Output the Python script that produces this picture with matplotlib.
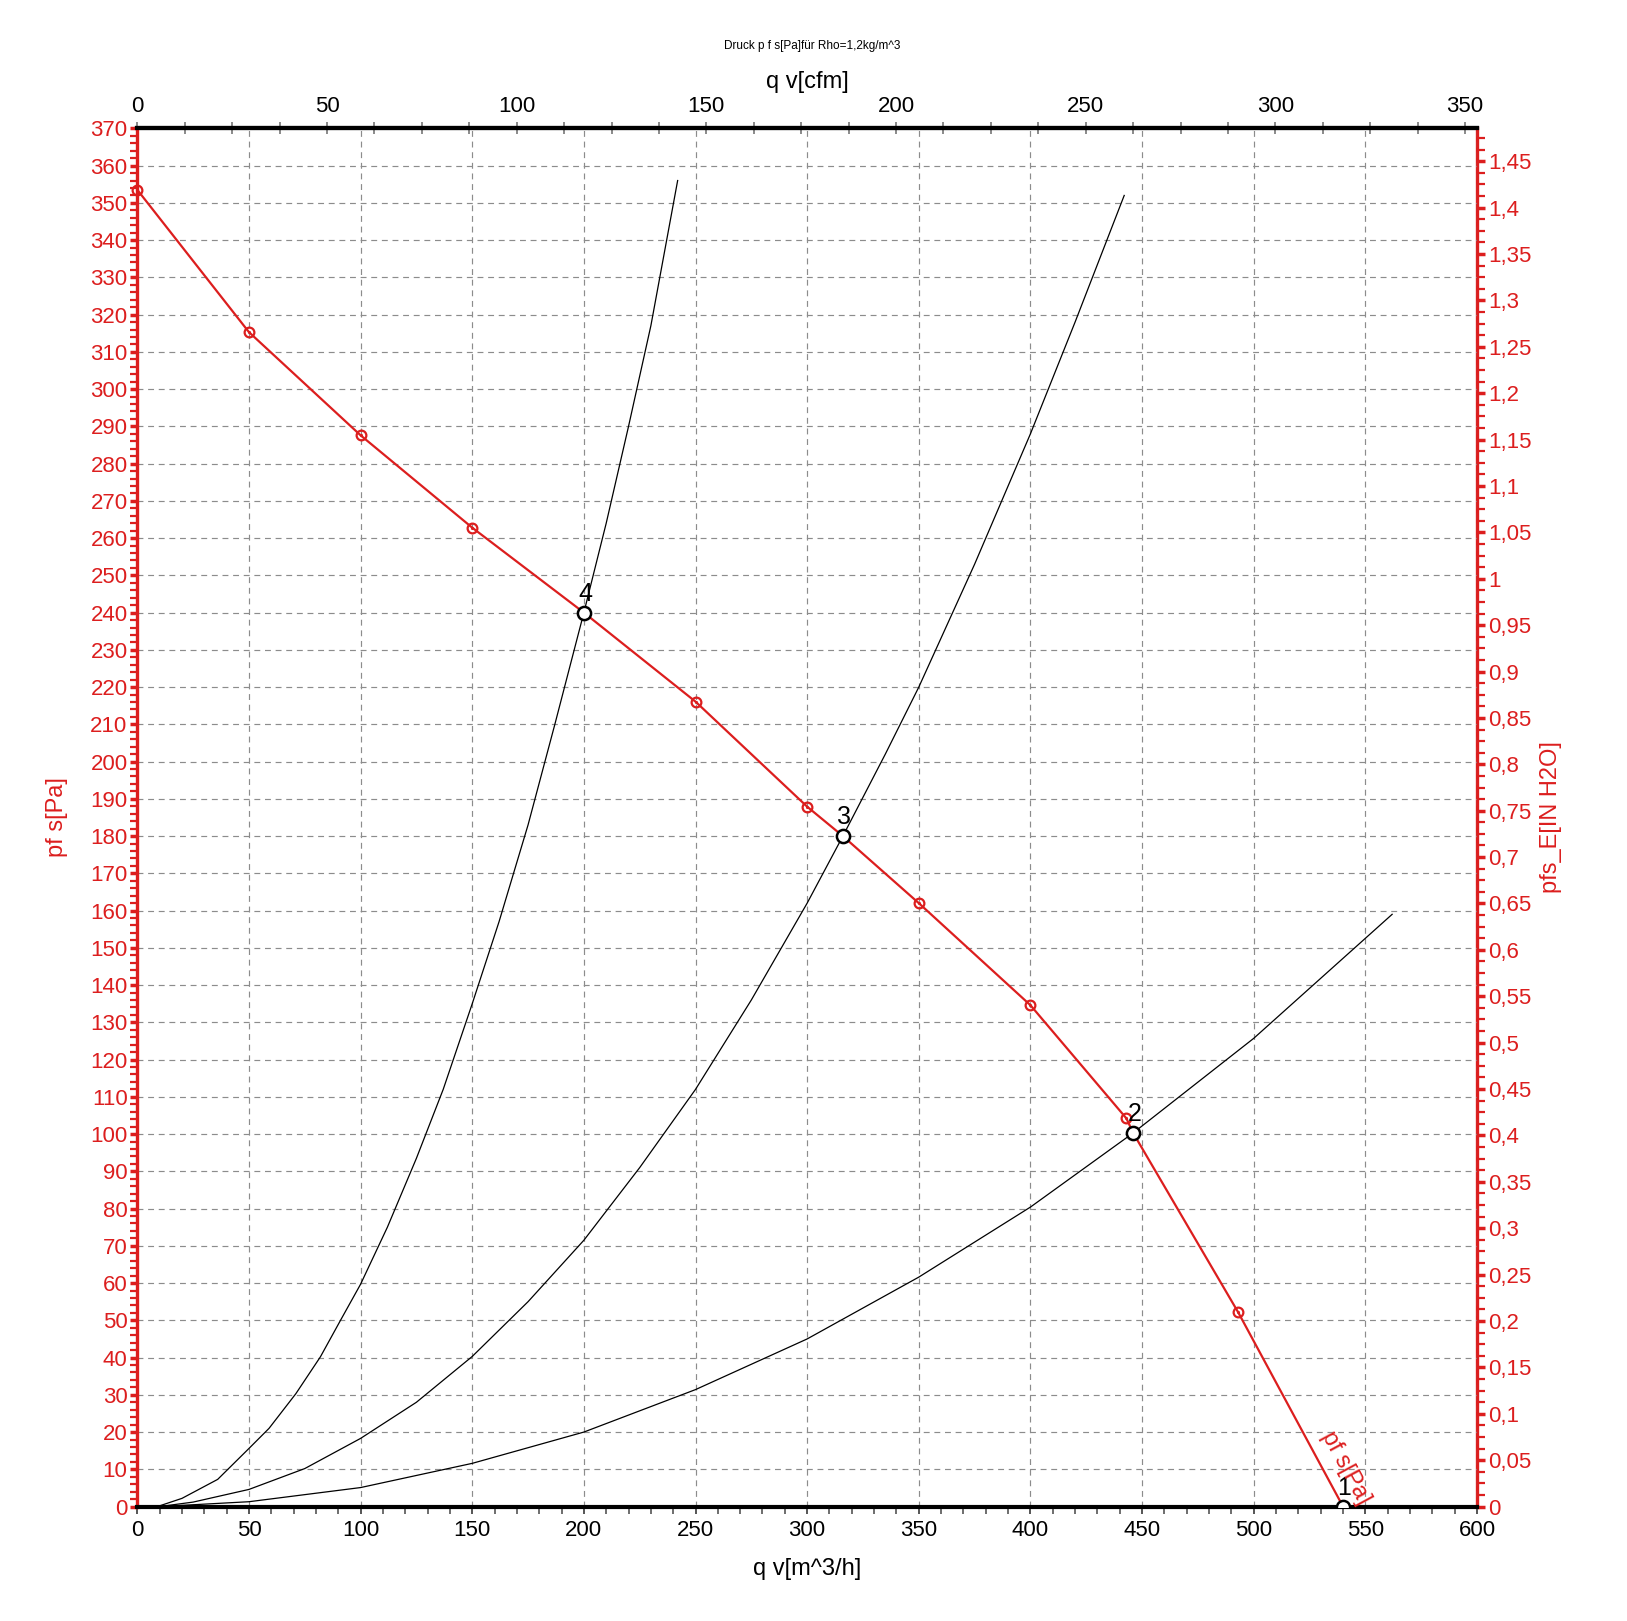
import matplotlib
matplotlib.use("Agg")
import matplotlib.pyplot as plt
from matplotlib.ticker import MultipleLocator, FixedLocator, FuncFormatter

# ----------------------- data ---------------------------------------------- #
# fan curve pf s [Pa] over q v [m^3/h] (red)
q_fan = [0, 50, 100, 150, 200, 250, 300, 316, 350, 400, 443, 446, 493, 540]
p_fan = [353.5, 315.3, 287.6, 262.8, 240.0, 216.1, 187.9, 180.0, 162.0, 134.6, 104.2, 100.3, 52.2, 0.0]

# red circle markers on the fan curve
q_fan_mark = [0, 50, 100, 150, 250, 300, 350, 400, 443, 493]
p_fan_mark = [353.5, 315.3, 287.6, 262.8, 216.1, 187.9, 162.0, 134.6, 104.2, 52.2]

# system resistance curves (black)
q_sys4 = [9, 20, 36, 50, 59, 71, 82, 91, 100, 112, 125, 137, 150, 162, 175,
          187, 200, 210, 220, 230, 242]
p_sys4 = [0, 2.2, 7.3, 15.6, 21.0, 30.3, 40.2, 50.0, 59.7, 75, 93.5, 112, 135,
          157, 183, 210, 240, 264, 290, 317, 356]

q_sys3 = [10, 25, 50, 75, 100, 125, 150, 175, 200, 225, 250, 275, 300, 316,
          335, 350, 375, 400, 420, 442]
p_sys3 = [0, 1.2, 4.6, 10.2, 18.3, 28, 40.3, 55, 71.5, 91, 112, 136, 162, 180,
          202, 220, 253, 288, 318, 352]

q_sys2 = [10, 50, 100, 150, 200, 250, 300, 350, 400, 446, 500, 562]
p_sys2 = [0, 1.3, 5.1, 11.6, 20.0, 31.4, 45.0, 61.6, 80.4, 100.3, 125.7, 159]

# operating points
q_op = [540, 446, 316, 200]
p_op = [0.0, 100.3, 180.0, 240.0]
op_labels = ["1", "2", "3", "4"]

# tick values of the secondary scales
cfm_ticks = [0, 50, 100, 150, 200, 250, 300, 350]
inh2o_ticks = [0, 0.05, 0.1, 0.15, 0.2, 0.25, 0.3, 0.35, 0.4, 0.45, 0.5, 0.55,
               0.6, 0.65, 0.7, 0.75, 0.8, 0.85, 0.9, 0.95, 1.0, 1.05, 1.1,
               1.15, 1.2, 1.25, 1.3, 1.35, 1.4, 1.45]

# unit conversions
M3H_PER_CFM = 1.699
PA_PER_INH2O = 249.09

RED = "#dc1e1e"
GRID = "#8c8c8c"

plt.rcParams["font.family"] = ["Liberation Sans", "DejaVu Sans"]

#-----------------------------------------------------------------------------#

def comma(v, pos):
    """tick label with German decimal comma"""
    return ("%g" % round(v, 4)).replace(".", ",")

#-----------------------------------------------------------------------------#

fig = plt.figure(figsize=(16.27, 16.21), dpi=100)
ax = fig.add_axes([0.0844, 0.0706, 0.8234, 0.8502])

ax.set_xlim(0, 600)
ax.set_ylim(0, 370)

# grid
ax.xaxis.set_major_locator(MultipleLocator(50))
ax.xaxis.set_minor_locator(MultipleLocator(10))
ax.yaxis.set_major_locator(MultipleLocator(10))
ax.yaxis.set_minor_locator(MultipleLocator(2))
ax.grid(True, which="major", color=GRID, lw=0.85, linestyle=(0, (5, 4)))

# system curves
for q, p in [(q_sys4, p_sys4), (q_sys3, p_sys3), (q_sys2, p_sys2)]:
    ax.plot(q, p, color="black", lw=0.9, zorder=3)

# fan curve
ax.plot(q_fan, p_fan, color=RED, lw=1.6, zorder=4)
ax.plot(q_fan_mark, p_fan_mark, "o", mfc="none", mec=RED, ms=7, mew=1.6,
        zorder=5, clip_on=False)
ax.plot(q_fan_mark, p_fan_mark, ".", color=RED, ms=2.5, zorder=5, clip_on=False)

# operating points
ax.plot(q_op, p_op, "o", mfc="white", mec="black", ms=9.5, mew=1.8, zorder=6)
for q, p, lab in zip(q_op, p_op, op_labels):
    ax.annotate(lab, (q, p), xytext=(0.8, 5), textcoords="offset points",
                ha="center", va="bottom", fontsize=18, color="black", zorder=7)

# curve label
ax.text(541, 10.5, "pf s[Pa]", color=RED, fontsize=17, rotation=-61.6,
        rotation_mode="anchor", ha="center", va="center", zorder=7)

# left / bottom axes
for s in ["top", "bottom"]:
    ax.spines[s].set_color("black")
    ax.spines[s].set_linewidth(3)
ax.spines["left"].set_color(RED)
ax.spines["left"].set_linewidth(2.4)
ax.spines["right"].set_visible(False)

ax.tick_params(axis="y", which="both", colors=RED, direction="out",
               labelsize=16, pad=2)
ax.tick_params(axis="y", which="major", length=5, width=2.5)
ax.tick_params(axis="y", which="minor", length=5, width=1.6)
ax.tick_params(axis="x", which="both", colors="#555555", direction="out",
               labelcolor="black", labelsize=16, pad=5)
ax.tick_params(axis="x", which="major", length=5, width=1.4)
ax.tick_params(axis="x", which="minor", length=5, width=1.2)

ax.set_xlabel("q v[m^3/h]", fontsize=17)
ax.xaxis.set_label_coords(0.5, -0.037)
ax.set_ylabel("pf s[Pa]", fontsize=17, color=RED)
ax.yaxis.set_label_coords(-0.052, 0.5)

# top axis in cfm
top = ax.secondary_xaxis("top", functions=(lambda q: q / M3H_PER_CFM,
                                           lambda c: c * M3H_PER_CFM))
top.xaxis.set_major_locator(FixedLocator(cfm_ticks))
top.xaxis.set_minor_locator(MultipleLocator(12.5))
top.spines["top"].set_color("black")
top.spines["top"].set_linewidth(3)
top.tick_params(which="both", direction="inout", length=8, width=1.4,
                colors="#8a8a8a", labelcolor="black", labelsize=16, pad=4)
top.set_xlabel("q v[cfm]", fontsize=17, labelpad=6)

# right axis in inch water
right = ax.secondary_yaxis("right", functions=(lambda p: p / PA_PER_INH2O,
                                               lambda h: h * PA_PER_INH2O))
right.yaxis.set_major_locator(FixedLocator(inh2o_ticks))
right.yaxis.set_minor_locator(MultipleLocator(0.0125))
right.yaxis.set_major_formatter(FuncFormatter(comma))
right.spines["right"].set_color(RED)
right.spines["right"].set_linewidth(2.4)
right.tick_params(which="both", colors=RED, direction="out", labelsize=16, pad=2)
right.tick_params(which="major", length=6, width=2.5)
right.tick_params(which="minor", length=6, width=1.6)
right.set_ylabel("pfs_E[IN H2O]", fontsize=17, color=RED, labelpad=6)

# small title on top
fig.text(0.499, 0.9719, "Druck p f s[Pa]für Rho=1,2kg/m^3", fontsize=8.5,
         ha="center", va="center")

fig.savefig("out.png", dpi=100)
